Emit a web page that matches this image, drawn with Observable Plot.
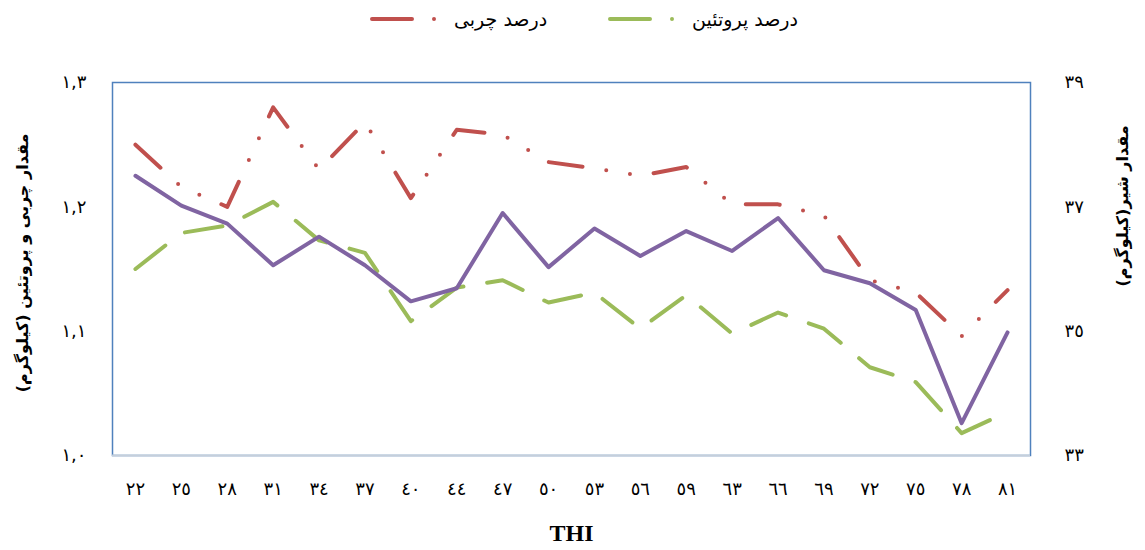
<!DOCTYPE html>
<html>
<head>
<meta charset="utf-8">
<script src="https://cdn.jsdelivr.net/npm/d3@7"></script>
<script src="https://cdn.jsdelivr.net/npm/@observablehq/plot@0.6"></script>
<style>
  body { margin:0; background:#fff; font-family:"Liberation Serif","DejaVu Sans",serif; }
  #legend { position:relative; width:1145px; height:50px; }
  .item { position:absolute; top:8px; display:flex; align-items:center; }
  .item span { font-size:19px; direction:rtl; margin-left:6px; font-family:"DejaVu Sans",sans-serif; }
</style>
</head>
<body>
<div id="legend"></div>
<div id="chart"></div>
<script>
const thi = [22,25,28,31,34,37,40,44,47,50,53,56,59,63,66,69,72,75,78,81];
const fat = [1.250,1.216,1.200,1.280,1.230,1.268,1.207,1.262,1.258,1.236,1.231,1.225,1.232,1.202,1.202,1.193,1.141,1.131,1.096,1.133];
const protein = [1.150,1.179,1.185,1.204,1.173,1.163,1.108,1.135,1.141,1.123,1.131,1.102,1.129,1.098,1.115,1.102,1.071,1.059,1.018,1.035];
const milk = [37.50,37.02,36.73,36.06,36.52,36.06,35.48,35.69,36.90,36.03,36.65,36.21,36.61,36.29,36.82,35.98,35.77,35.34,33.52,34.98];
const leftTicks = [1.0,1.1,1.2,1.3];
const rightTicks = [33,35,37,39];
const seriesNames = ["درصد چربی","درصد پروتئین"];
const leftTitle = "مقدار چربی و پروتئین (کیلوگرم)";
const rightTitle = "مقدار شیر(کیلوگرم)";
const xTitle = "THI";

const red = "#C0504D", green = "#9BBB59", purple = "#8064A2";
const redDash = "34,24,0,24,0,24", greenDash = "38,24";

const fa = s => String(s).replace(/\d/g, d => "٠١٢٣٤٥٦٧٨٩"[+d]);
const toLeft = m => 1.0 + (m - 33) * 0.05;
const fromLeft = v => Math.round(33 + (v - 1.0) / 0.05);

const data = thi.map((t,i) => ({thi:t, fat:fat[i], protein:protein[i], milk:toLeft(milk[i])}));

// legend
const legend = document.getElementById("legend");
[[seriesNames[0], red, 368], [seriesNames[1], green, 606]].forEach(([name,col,x]) => {
  const div = document.createElement("div");
  div.className = "item";
  div.style.left = x + "px";
  div.innerHTML = `<svg width="80" height="20"><line x1="4" y1="10" x2="78" y2="10" stroke="${col}" stroke-width="4" stroke-linecap="round" stroke-dasharray="40,22,0,40"/></svg><span>${name}</span>`;
  legend.appendChild(div);
});

const chart = Plot.plot({
  width: 1145, height: 500,
  marginTop: 32, marginBottom: 95, marginLeft: 112, marginRight: 115,
  x: {type: "point", domain: thi, padding: 0.5, round: false},
  y: {domain: [1.0, 1.3]},
  style: {fontFamily: "'DejaVu Sans', sans-serif", fontSize: "18px", color: "#000", background: "#fff"},
  marks: [
    Plot.frame({stroke: "#4F81BD", strokeWidth: 1.5}),
    Plot.ruleY([1.0], {stroke: "#C5CFDB", strokeWidth: 2}),
    Plot.axisX({tickSize: 0, tickPadding: 27, tickFormat: fa, label: null, fontSize: 18}),
    Plot.axisY({ticks: leftTicks, tickSize: 0, tickPadding: 26, tickFormat: v => fa(v.toFixed(1)).replace(".", ","), label: null, fontSize: 18}),
    Plot.axisY({anchor: "right", ticks: rightTicks.map(toLeft), tickSize: 0, tickPadding: 34, tickFormat: v => fa(fromLeft(v)), label: null, fontSize: 18}),
    Plot.lineY(data, {x: "thi", y: "fat", stroke: red, strokeWidth: 4, strokeDasharray: redDash, strokeLinecap: "round", strokeLinejoin: "round"}),
    Plot.lineY(data, {x: "thi", y: "protein", stroke: green, strokeWidth: 4, strokeDasharray: greenDash, strokeLinecap: "round", strokeLinejoin: "round"}),
    Plot.lineY(data, {x: "thi", y: "milk", stroke: purple, strokeWidth: 4, strokeLinecap: "round", strokeLinejoin: "round"}),
    Plot.text([leftTitle], {text: d => d, frameAnchor: "left", textAnchor: "middle", dx: -90, dy: -6, rotate: -90, fontSize: 16, fontWeight: "bold"}),
    Plot.text([rightTitle], {text: d => d, frameAnchor: "right", textAnchor: "middle", dx: 92, dy: -63, rotate: -90, fontSize: 16, fontWeight: "bold"}),
    Plot.text([xTitle], {text: d => d, frameAnchor: "bottom", dy: 85, fontSize: 24, fontWeight: "bold", fontFamily: "'Liberation Serif', serif"})
  ]
});
document.getElementById("chart").appendChild(chart);
</script>
</body>
</html>
